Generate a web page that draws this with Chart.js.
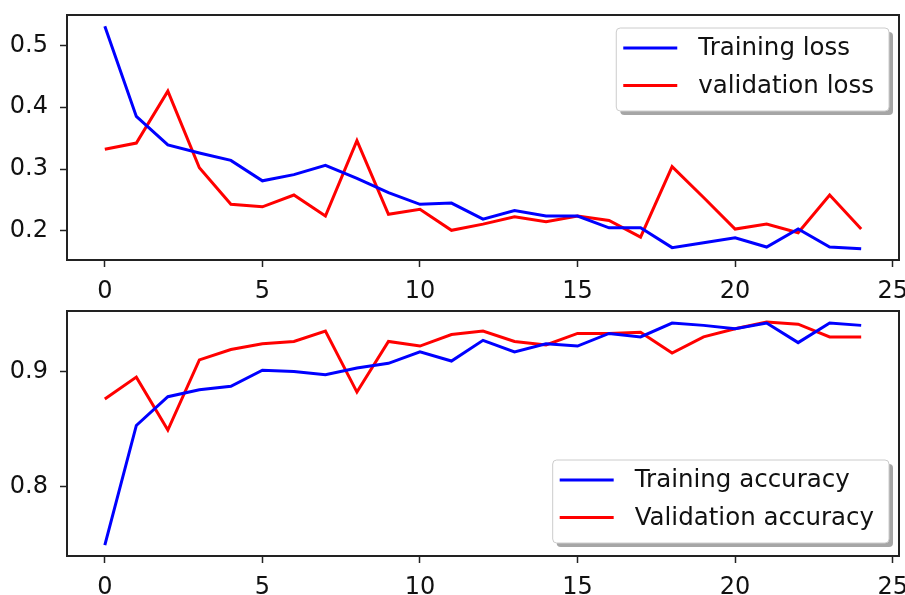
<!DOCTYPE html>
<html>
<head>
<meta charset="utf-8">
<script src="https://cdn.jsdelivr.net/npm/chart.js@4"></script>
<style>
  html, body { margin: 0; padding: 0; background: #fff; }
  #wrap { position: relative; width: 905px; height: 595px; }
  #lossChart { position: absolute; left: 0; top: 0; }
  #accChart { position: absolute; left: 0; top: 300px; }
</style>
</head>
<body>
<div id="wrap">
  <canvas id="lossChart" width="905" height="300"></canvas>
  <canvas id="accChart" width="905" height="295"></canvas>
</div>
<script>
const epocas = [0, 1, 2, 3, 4, 5, 6, 7, 8, 9, 10, 11, 12, 13, 14, 15, 16, 17, 18, 19, 20, 21, 22, 23, 24];

const trainLoss = [0.531, 0.385, 0.339, 0.326, 0.314, 0.281, 0.291, 0.306, 0.285, 0.262, 0.243, 0.245, 0.219,
  0.233, 0.224, 0.224, 0.205, 0.205, 0.173, 0.181, 0.189, 0.174, 0.203, 0.174, 0.171];
const valLoss = [0.332, 0.342, 0.426, 0.302, 0.243, 0.239, 0.258, 0.224, 0.346, 0.227, 0.235, 0.201, 0.211,
  0.223, 0.215, 0.224, 0.217, 0.190, 0.304, 0.254, 0.203, 0.211, 0.197, 0.258, 0.203];

const trainAcc = [0.749, 0.853, 0.878, 0.884, 0.887, 0.901, 0.900, 0.897, 0.903, 0.907, 0.917, 0.909, 0.927,
  0.917, 0.924, 0.922, 0.933, 0.930, 0.942, 0.940, 0.937, 0.942, 0.925, 0.942, 0.940];
const valAcc = [0.876, 0.895, 0.849, 0.910, 0.919, 0.924, 0.926, 0.935, 0.882, 0.926, 0.922, 0.932, 0.935,
  0.926, 0.923, 0.933, 0.933, 0.934, 0.916, 0.930, 0.937, 0.943, 0.941, 0.930, 0.930];

const xTicks = [0, 5, 10, 15, 20, 25];
const lossTicks = [0.2, 0.3, 0.4, 0.5];
const accTicks = [0.8, 0.9];

const fuente = "'DejaVu Sans', sans-serif";
const colorEje = "#222";

// marco completo + leyenda con sombra dentro del area
const marcoYLeyenda = {
  id: "marcoYLeyenda",
  afterDatasetsDraw(chart, args, opts) {
    const ctx = chart.ctx;
    const a = chart.chartArea;
    ctx.save();
    ctx.strokeStyle = colorEje;
    ctx.lineWidth = 2;
    ctx.strokeRect(a.left, a.top, a.right - a.left, a.bottom - a.top);

    ctx.font = "24.5px " + fuente;
    const items = chart.data.datasets.map((d) => ({ label: d.label, color: d.borderColor }));
    const anchoTexto = Math.max(...items.map((i) => ctx.measureText(i.label).width));
    const w = 7 + 54 + 21 + anchoTexto + 15;
    const h = 83;
    const x = a.right - 10 - w;
    const y = opts.abajo ? a.bottom - 13 - h : a.top + 13;

    const caja = (px, py) => {
      ctx.beginPath();
      ctx.roundRect(px, py, w, h, 4);
    };
    ctx.fillStyle = "rgba(0,0,0,0.35)";
    caja(x + 4, y + 4);
    ctx.fill();
    ctx.fillStyle = "#fff";
    caja(x, y);
    ctx.fill();
    ctx.strokeStyle = "#ccc";
    ctx.lineWidth = 1;
    ctx.stroke();

    items.forEach((it, i) => {
      const fy = y + 20 + i * 37.5;
      ctx.strokeStyle = it.color;
      ctx.lineWidth = 3;
      ctx.beginPath();
      ctx.moveTo(x + 7, fy);
      ctx.lineTo(x + 61, fy);
      ctx.stroke();
      ctx.fillStyle = "#111";
      ctx.textBaseline = "middle";
      ctx.textAlign = "left";
      ctx.fillText(it.label, x + 82, fy + 1);
    });
    ctx.restore();
  },
};

const armarConfig = (serie1, serie2, nombre1, nombre2, yMin, yMax, yTicks, arriba, altoEjeX, abajo) => {
  const puntos = (serie) => serie.map((v, i) => ({ x: epocas[i], y: v }));
  return {
    type: "line",
    data: {
      datasets: [
        { label: nombre1, data: puntos(serie1), borderColor: "rgb(0,0,255)", borderWidth: 3, pointRadius: 0, tension: 0 },
        { label: nombre2, data: puntos(serie2), borderColor: "rgb(255,0,0)", borderWidth: 3, pointRadius: 0, tension: 0 },
      ],
    },
    options: {
      responsive: false,
      animation: false,
      layout: { padding: { top: arriba, right: 6, left: 0, bottom: 0 } },
      plugins: {
        legend: { display: false },
        tooltip: { enabled: false },
        marcoYLeyenda: { abajo },
      },
      scales: {
        x: {
          type: "linear",
          min: -1.2,
          max: 25.2,
          afterBuildTicks: (scale) => {
            scale.ticks = xTicks.map((v) => ({ value: v }));
          },
          afterFit: (scale) => {
            scale.height = altoEjeX;
            scale.paddingLeft = 0;
            scale.paddingRight = 0;
          },
          grid: { drawOnChartArea: false, drawTicks: true, tickLength: 7, tickColor: colorEje, tickWidth: 1.5 },
          border: { display: true, color: colorEje, width: 2 },
          ticks: { color: "#111", font: { family: fuente, size: 24 }, padding: 10, maxRotation: 0, callback: (v) => v },
        },
        y: {
          type: "linear",
          min: yMin,
          max: yMax,
          afterBuildTicks: (scale) => {
            scale.ticks = yTicks.map((v) => ({ value: v }));
          },
          afterFit: (scale) => {
            scale.width = 67;
            scale.paddingTop = 0;
            scale.paddingBottom = 0;
          },
          grid: { drawOnChartArea: false, drawTicks: true, tickLength: 7, tickColor: colorEje, tickWidth: 1.5 },
          border: { display: true, color: colorEje, width: 2 },
          ticks: { color: "#111", font: { family: fuente, size: 24 }, padding: 12, callback: (v) => v.toFixed(1) },
        },
      },
    },
    plugins: [marcoYLeyenda],
  };
};

new Chart(document.getElementById("lossChart"),
  armarConfig(trainLoss, valLoss, "Training loss", "validation loss", 0.153, 0.549, lossTicks, 15, 40, false));
new Chart(document.getElementById("accChart"),
  armarConfig(trainAcc, valAcc, "Training accuracy", "Validation accuracy", 0.7395, 0.9525, accTicks, 11, 39, true));
</script>
</body>
</html>
